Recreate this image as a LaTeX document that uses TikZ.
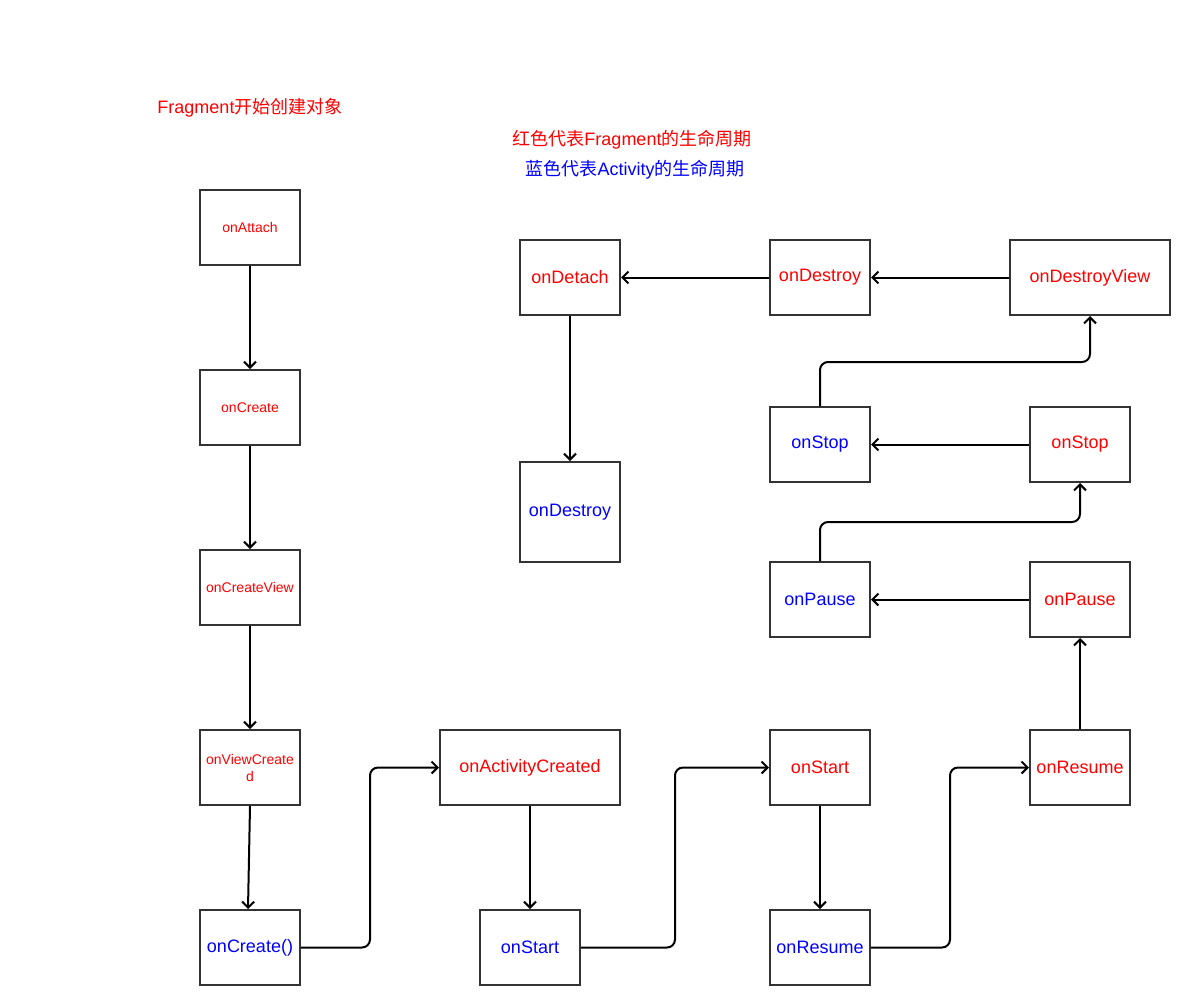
\documentclass[tikz,border=0pt]{standalone}
\usepackage{fontspec}
\setmainfont{Liberation Sans}
\newfontfamily\cjk{Noto Sans CJK SC}
\newcommand{\zh}[1]{{\cjk #1}}
\usetikzlibrary{arrows.meta}
\definecolor{boxline}{HTML}{333333}
\definecolor{fred}{HTML}{FF0000}
\definecolor{ablue}{HTML}{0000FF}
\tikzset{
  box/.style={draw=boxline, line width=2pt, fill=white, minimum width=100pt, minimum height=75pt, inner sep=0pt, align=center, font=\fontsize{18}{21}\selectfont},
  smallbox/.style={box, font=\fontsize{14}{17}\selectfont},
  frag/.style={text=fred},
  act/.style={text=ablue},
  conn/.style={draw=black, line width=2pt, -{Straight Barb[length=6pt,width=12pt,line width=2pt]}, rounded corners=8pt},
  title/.style={font=\fontsize{18}{21}\selectfont, inner sep=0pt}
}
\begin{document}
\begin{tikzpicture}[x=1pt,y=-1pt]
\useasboundingbox[fill=white] (0,0) rectangle (1190,1005);
% titles
\node[title, text=fred] (t1) at (250,108) {Fragment\zh{开始创建对象}};
\node[title, text=fred] (t2) at (632,140) {\zh{红色代表}Fragment\zh{的生命周期}};
\node[title, text=ablue] (t3) at (635,170) {\zh{蓝色代表}Activity\zh{的生命周期}};
% left column
\node[smallbox, frag] (attach) at (250,227.5) {onAttach};
\node[smallbox, frag] (create) at (250,407.5) {onCreate};
\node[smallbox, frag] (createview) at (250,587.5) {onCreateView};
\node[smallbox, frag] (viewcreated) at (250,767.5) {onViewCreate\\d};
\node[box, act] (acreate) at (250,947.5) {onCreate()};
% middle row
\node[box, frag, minimum width=180pt] (actcreated) at (530,767.5) {onActivityCreated};
\node[box, act] (astart) at (530,947.5) {onStart};
\node[box, frag] (fstart) at (820,767.5) {onStart};
\node[box, act] (aresume) at (820,947.5) {onResume};
\node[box, frag] (fresume) at (1080,767.5) {onResume};
\node[box, frag] (fpause) at (1080,599.5) {onPause};
\node[box, act] (apause) at (820,599.5) {onPause};
\node[box, frag] (fstop) at (1080,444.5) {onStop};
\node[box, act] (astop) at (820,444.5) {onStop};
\node[box, frag, minimum width=160pt] (fdestroyview) at (1090,277.5) {onDestroyView};
\node[box, frag] (fdestroy) at (820,277.5) {onDestroy};
\node[box, frag] (fdetach) at (570,277.5) {onDetach};
\node[box, act, minimum height=100pt] (adestroy) at (570,512) {onDestroy};
% connectors
\draw[conn] (attach) -- (create);
\draw[conn] (create) -- (createview);
\draw[conn] (createview) -- (viewcreated);
\draw[conn] (viewcreated.south) -- (acreate.north -| 248,0);
\draw[conn] (acreate.east) -- (370,947.5) -- (370,767.5) -- (actcreated.west);
\draw[conn] (actcreated) -- (astart);
\draw[conn] (astart.east) -- (675,947.5) -- (675,767.5) -- (fstart.west);
\draw[conn] (fstart) -- (aresume);
\draw[conn] (aresume.east) -- (950,947.5) -- (950,767.5) -- (fresume.west);
\draw[conn] (fresume) -- (fpause);
\draw[conn] (fpause) -- (apause);
\draw[conn] (apause.north) -- (820,522) -- (1080,522) -- (fstop.south);
\draw[conn] (fstop) -- (astop);
\draw[conn] (astop.north) -- (820,362) -- (1090,362) -- (fdestroyview.south);
\draw[conn] (fdestroyview) -- (fdestroy);
\draw[conn] (fdestroy) -- (fdetach);
\draw[conn] (fdetach) -- (adestroy);
\end{tikzpicture}
\end{document}
